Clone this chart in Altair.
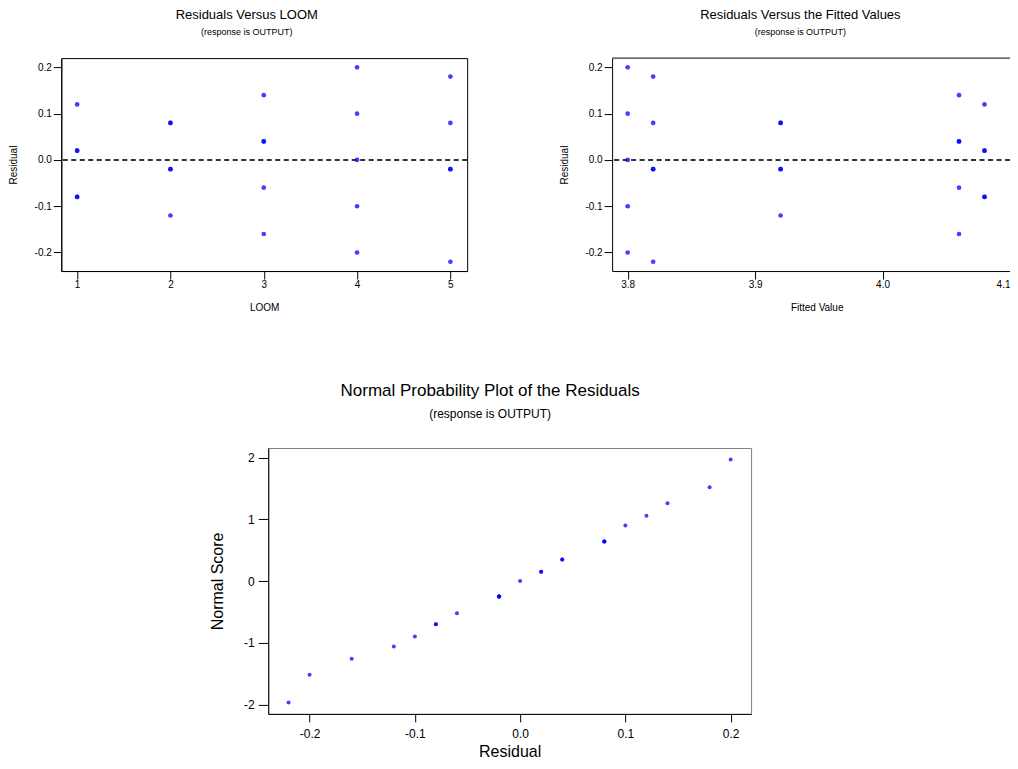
import altair as alt
import pandas as pd

FONT = "Liberation Sans"

# ---- data ----
loom = [1, 1, 1, 1, 1, 2, 2, 2, 2, 2, 3, 3, 3, 3, 3, 4, 4, 4, 4, 4, 5, 5, 5, 5, 5]
fitted = [4.08, 4.08, 4.08, 4.08, 4.08, 3.92, 3.92, 3.92, 3.92, 3.92,
          4.06, 4.06, 4.06, 4.06, 4.06, 3.80, 3.80, 3.80, 3.80, 3.80,
          3.82, 3.82, 3.82, 3.82, 3.82]
residual = [0.12, 0.02, 0.02, -0.08, -0.08, 0.08, 0.08, -0.02, -0.02, -0.12,
            0.14, 0.04, 0.04, -0.06, -0.16, 0.20, 0.10, 0.00, -0.10, -0.20,
            0.18, 0.08, -0.02, -0.02, -0.22]
normal_score = [1.06, 0.15, 0.15, -0.70, -0.70, 0.64, 0.64, -0.25, -0.25, -1.06,
                1.26, 0.35, 0.35, -0.52, -1.26, 1.97, 0.90, 0.00, -0.90, -1.52,
                1.52, 0.64, -0.25, -0.25, -1.97]

loom_ticks = [1, 2, 3, 4, 5]
fit_ticks = [3.8, 3.9, 4.0, 4.1]
resid_ticks = [-0.2, -0.1, 0.0, 0.1, 0.2]
score_ticks = [-2, -1, 0, 1, 2]

df = pd.DataFrame({"LOOM": loom, "FITS": fitted, "RESI": residual, "NSCORE": normal_score})
one = pd.DataFrame({"k": [0]})  # single row for reference lines

RESID_DOMAIN = [-0.24, 0.22]


def lab(fmt):
    return f"datum.value < 0 ? '-' + format(-datum.value, '{fmt}') : format(datum.value, '{fmt}')"


def axis(values, fmt, title, orient, w, h, fs, tfs, tx, ty, ts=8, lp=2, **extra):
    kw = dict(values=values, labelExpr=lab(fmt), title=title, grid=False,
              tickSize=ts, tickColor="black", domainColor="black", tickWidth=1,
              labelFont=FONT, labelFontSize=fs, labelColor="black", labelPadding=lp,
              titleFont=FONT, titleFontSize=tfs, titleFontWeight="normal",
              titleColor="black", titleBaseline="middle", titleAlign="center")
    if orient == "left":
        kw.update(titleX=tx, titleY=h / 2, titleAngle=270)
    else:
        kw.update(titleX=tx if tx else w / 2, titleY=ty)
    kw.update(extra)
    return alt.Axis(**kw)


PT = dict(filled=True, shape="circle", size=22, color="#0000ff", opacity=0.75)
RULE = dict(strokeDash=[5, 3.5], color="#333333", strokeWidth=2)

# ---- top left ----
W1, H1 = 406, 213
pts1 = alt.Chart(df).mark_point(**PT).encode(
    x=alt.X("LOOM:Q", scale=alt.Scale(domain=[0.83, 5.18], nice=False, zero=False),
            axis=axis(loom_ticks, "d", "LOOM", "bottom", W1, H1, 10, 10, 0, 36, lp=0)),
    y=alt.Y("RESI:Q", scale=alt.Scale(domain=RESID_DOMAIN, nice=False, zero=False),
            axis=axis(resid_ticks, ".1f", "Residual", "left", W1, H1, 10, 10, -48, 0)),
)
rule1 = alt.Chart(one).mark_rule(**RULE).encode(y=alt.datum(0.0))
top_left = alt.layer(rule1, pts1).properties(
    width=W1, height=H1,
    view=alt.ViewBackground(stroke="black", strokeWidth=1),
    title=alt.TitleParams("Residuals Versus LOOM", subtitle="(response is OUTPUT)",
                          font=FONT, fontSize=13, fontWeight="normal", color="black",
                          subtitleFont=FONT, subtitleFontSize=9, subtitleColor="black",
                          anchor="middle", frame="group", dx=-17.5, offset=21,
                          subtitlePadding=6),
)

# ---- top right (runs up to the page edge, as in the reference) ----
W2, H2 = 398, 213
pts2 = alt.Chart(df).mark_point(**PT).encode(
    x=alt.X("FITS:Q", scale=alt.Scale(domain=[3.7878, 4.1], nice=False, zero=False),
            axis=axis(fit_ticks, ".1f", "Fitted Value", "bottom", W2, H2, 10, 10, 204.6, 36,
                      lp=0, labelFlush=2)),
    y=alt.Y("RESI:Q", scale=alt.Scale(domain=RESID_DOMAIN, nice=False, zero=False),
            axis=axis(resid_ticks, ".1f", "Residual", "left", W2, H2, 10, 10, -48, 0)),
)
rule2 = alt.Chart(one).mark_rule(**RULE).encode(y=alt.datum(0.0))
frame_top2 = alt.Chart(one).mark_rule(color="black", strokeWidth=1).encode(
    y=alt.datum(RESID_DOMAIN[1]))
top_right = alt.layer(frame_top2, rule2, pts2).properties(
    width=W2, height=H2,
    view=alt.ViewBackground(stroke=None),
    title=alt.TitleParams("Residuals Versus the Fitted Values", subtitle="(response is OUTPUT)",
                          font=FONT, fontSize=13, fontWeight="normal", color="black",
                          subtitleFont=FONT, subtitleFontSize=9, subtitleColor="black",
                          anchor="middle", frame="group", dx=-10.7, offset=21,
                          subtitlePadding=6),
)

# ---- bottom: normal probability plot ----
W3, H3 = 483, 266
bottom = alt.Chart(df).mark_point(filled=True, shape="circle", size=16, color="#0000ff",
                                  opacity=0.75).encode(
    x=alt.X("RESI:Q", scale=alt.Scale(domain=[-0.2393, 0.2194], nice=False, zero=False),
            axis=axis(resid_ticks, ".1f", "Residual", "bottom", W3, H3, 12, 16, 0, 38, ts=8, lp=7)),
    y=alt.Y("NSCORE:Q", scale=alt.Scale(domain=[-2.153, 2.157], nice=False, zero=False),
            axis=axis(score_ticks, "d", "Normal Score", "left", W3, H3, 12, 16, -51, 0, ts=10, lp=4)),
).properties(
    width=W3, height=H3,
    view=alt.ViewBackground(stroke="#808080", strokeWidth=1),
    title=alt.TitleParams("Normal Probability Plot of the Residuals", subtitle="(response is OUTPUT)",
                          font=FONT, fontSize=17, fontWeight="normal", color="black",
                          subtitleFont=FONT, subtitleFontSize=12, subtitleColor="black",
                          anchor="middle", frame="group", dx=-19.5, offset=27,
                          subtitlePadding=9),
)

spacer = alt.Chart(one).mark_point(opacity=0).encode(
    x=alt.X("k:Q", axis=None), y=alt.Y("k:Q", axis=None)
).properties(width=137, height=10, view=alt.ViewBackground(stroke=None))

row1 = alt.hconcat(top_left, top_right, spacing=90)
row2 = alt.hconcat(spacer, bottom, spacing=10)

chart = alt.vconcat(row1, row2, spacing=68).properties(
    padding={"left": -0.7, "top": 0, "right": -1.0, "bottom": 0}
).configure(font=FONT).configure_view(stroke=None).configure_title(color="black")

chart.save("out.html", embed_options={"renderer": "svg", "actions": False})
